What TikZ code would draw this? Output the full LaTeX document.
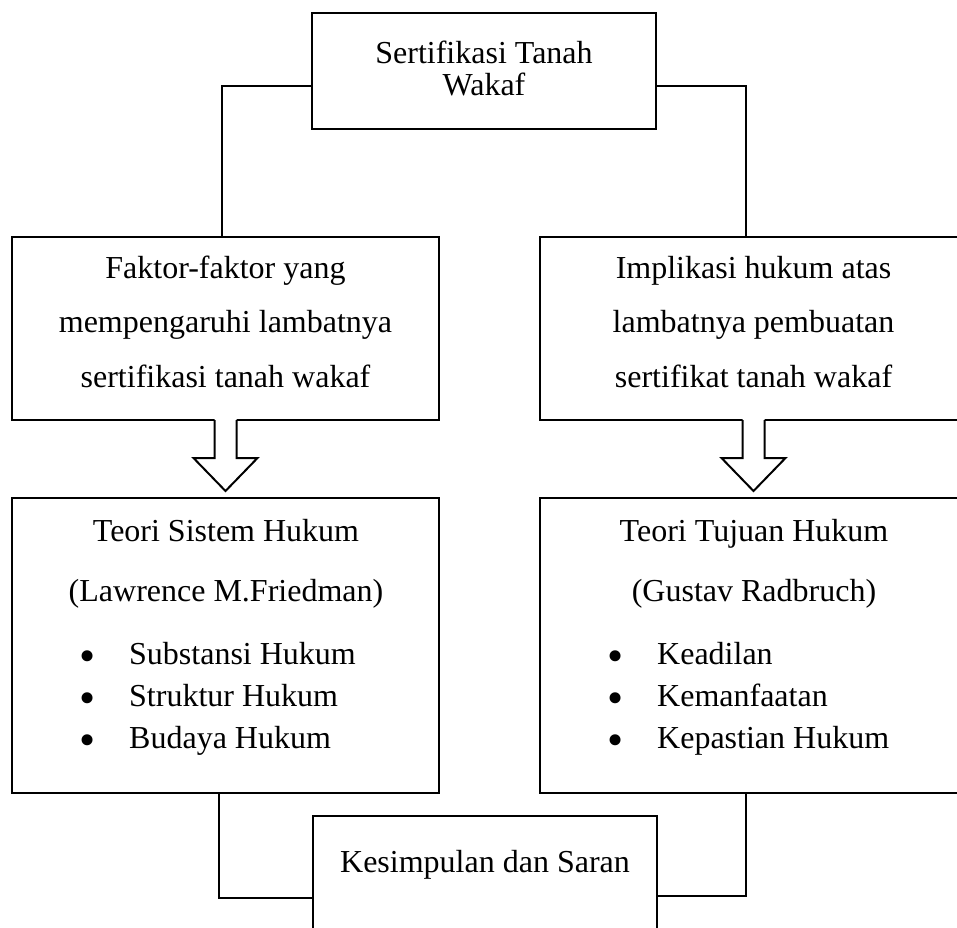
\documentclass[tikz,border=0pt]{standalone}
\usepackage{fontspec}
\setmainfont{Liberation Serif}
\tikzset{
 box/.style={draw, line width=2pt, rectangle, inner sep=0pt, outer sep=0pt},
 txt/.style={anchor=base, inner sep=0pt, font=\fontsize{32}{38}\selectfont},
 bul/.style={anchor=base, inner sep=0pt, font=\fontsize{46}{46}\selectfont},
 itm/.style={anchor=base west, inner sep=0pt, font=\fontsize{32}{38}\selectfont},
 conn/.style={line width=2pt},
}
\newcommand\hollowarrow[1]{%
 \fill[white] ([xshift=-11pt,yshift=2pt]#1.south) -- ++(0,40) -- ++(-21,0) -- ++(32,33) -- ++(32,-33) -- ++(-21,0) -- ++(0,-40) -- cycle;
 \draw[conn, line join=miter] ([xshift=-11pt]#1.south) -- ++(0,38) -- ++(-21,0) -- ++(32,33) -- ++(32,-33) -- ++(-21,0) -- ++(0,-38);
}
\begin{document}
\begin{tikzpicture}[x=1pt,y=-1pt]
\clip (0,0) rectangle (957,927);
\fill[white] (0,0) rectangle (957,927);
% boxes
\node[box, minimum width=344pt, minimum height=116pt] (top) at (484,71) {};
\node[box, minimum width=427pt, minimum height=183pt] (L1) at (225.5,328.5) {};
\node[box, minimum width=427pt, minimum height=183pt] (R1) at (753.5,328.5) {};
\node[box, minimum width=427pt, minimum height=295pt] (L2) at (225.5,645.5) {};
\node[box, minimum width=427pt, minimum height=295pt] (R2) at (753.5,645.5) {};
\node[box, minimum width=344pt, minimum height=140pt] (bot) at (485,886) {};
% connectors
\draw[conn] ([yshift=-15pt]top.west) -| ([xshift=-3.5pt]L1.north);
\draw[conn] ([yshift=-15pt]top.east) -| ([xshift=-7.5pt]R1.north);
\draw[conn] ([xshift=-6.5pt]L2.south) |- ([yshift=-12pt]bot.west);
\draw[conn] ([xshift=-7.5pt]R2.south) |- ([yshift=-10pt]bot.east);
% hollow arrows
\hollowarrow{L1}
\hollowarrow{R1}
% texts
\node[txt] (t0a) at (484,63) {Sertifikasi Tanah};
\node[txt] (t0b) at (484,95) {Wakaf};
\node[txt] (l1a) at (225.5,278) {Faktor-faktor yang};
\node[txt] (l1b) at (225.5,332) {mempengaruhi lambatnya};
\node[txt] (l1c) at (225.5,387) {sertifikasi tanah wakaf};
\node[txt] (r1a) at (753.5,278) {Implikasi hukum atas};
\node[txt] (r1b) at (753.5,332) {lambatnya pembuatan};
\node[txt] (r1c) at (753.5,387) {sertifikat tanah wakaf};
\node[txt] (l2a) at (226,541) {Teori Sistem Hukum};
\node[txt] (l2b) at (226,601) {(Lawrence M.Friedman)};
\node[bul] (lb1) at (88,671) {•};
\node[bul] (lb2) at (88,713) {•};
\node[bul] (lb3) at (88,755) {•};
\node[itm] (li1) at (129,664) {Substansi Hukum};
\node[itm] (li2) at (129,706) {Struktur Hukum};
\node[itm] (li3) at (129,748) {Budaya Hukum};
\node[txt] (r2a) at (754,541) {Teori Tujuan Hukum};
\node[txt] (r2b) at (754,601) {(Gustav Radbruch)};
\node[bul] (rb1) at (616,671) {•};
\node[bul] (rb2) at (616,713) {•};
\node[bul] (rb3) at (616,755) {•};
\node[itm] (ri1) at (657,664) {Keadilan};
\node[itm] (ri2) at (657,706) {Kemanfaatan};
\node[itm] (ri3) at (657,748) {Kepastian Hukum};
\node[txt] (bt) at (485,872) {Kesimpulan dan Saran};
\end{tikzpicture}
\end{document}
